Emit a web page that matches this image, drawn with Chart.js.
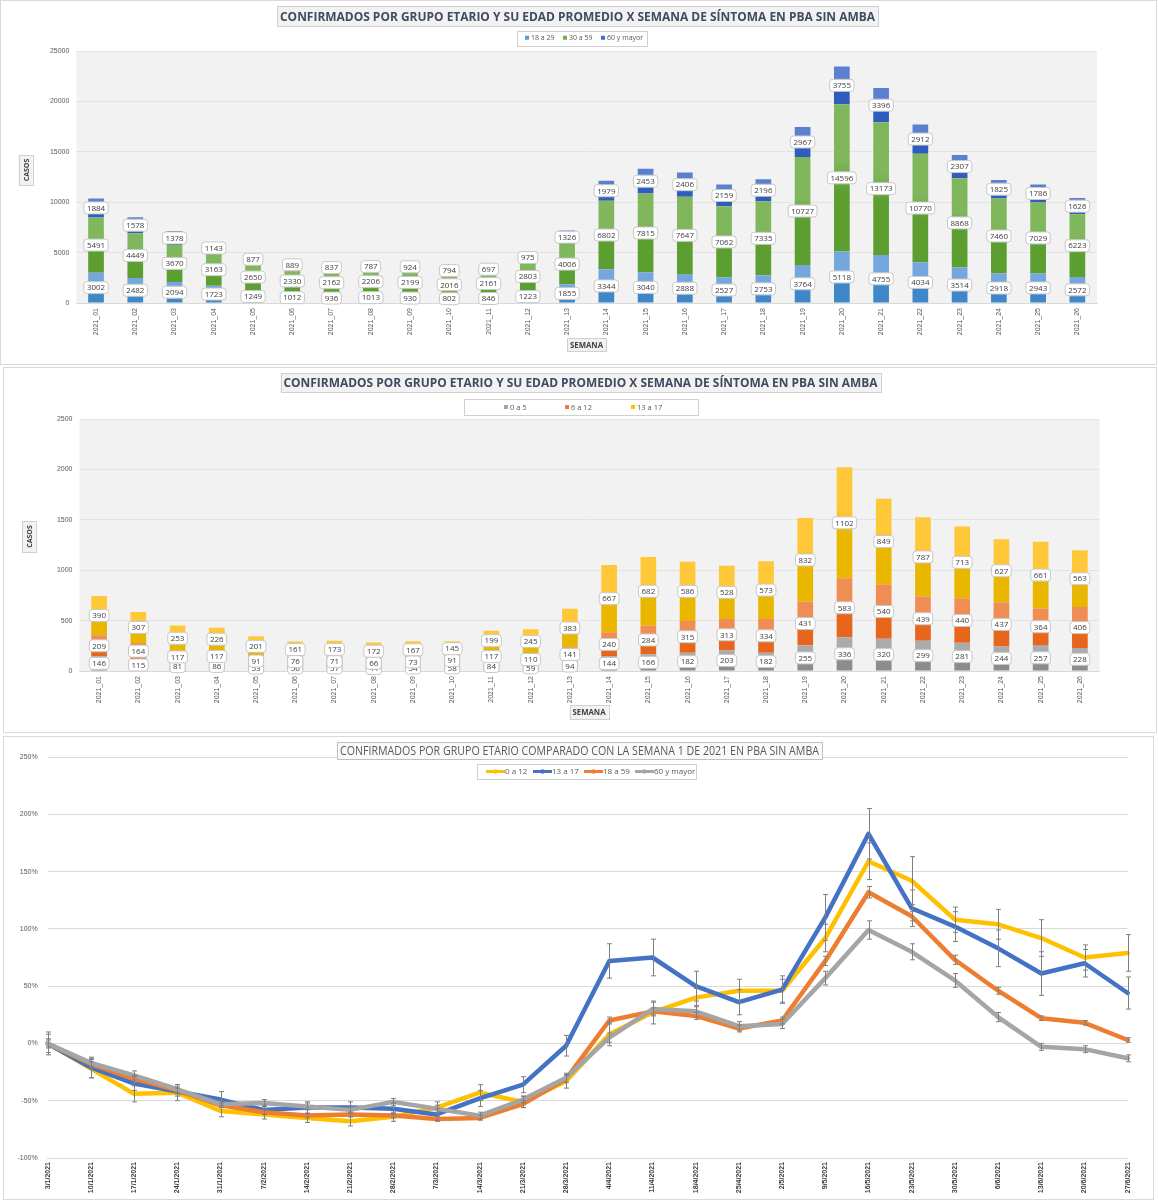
<!DOCTYPE html>
<html lang="es">
<head>
<meta charset="utf-8">
<script src="https://cdn.jsdelivr.net/npm/chart.js@4.4.0/dist/chart.umd.min.js"></script>
<title>Confirmados por grupo etario - PBA sin AMBA</title>
<style>
  body { margin: 0; background: #fff; font-family: "Open Sans", sans-serif; }
  .panel { position: absolute; }
</style>
</head>
<body>
<div class="panel" style="left:0;top:0;width:1157px;height:365px"><canvas id="g1"></canvas></div>
<div class="panel" style="left:3px;top:367px;width:1154px;height:366px"><canvas id="g2"></canvas></div>
<div class="panel" style="left:3px;top:736px;width:1151px;height:464px"><canvas id="g3"></canvas></div>

<script>
// ---- datos ----
const semanas = ['2021_01','2021_02','2021_03','2021_04','2021_05','2021_06','2021_07','2021_08','2021_09','2021_10','2021_11','2021_12','2021_13',
  '2021_14','2021_15','2021_16','2021_17','2021_18','2021_19','2021_20','2021_21','2021_22','2021_23','2021_24','2021_25','2021_26'];

// grafico 1: adultos
const c18a29 = [3002, 2482, 2094, 1723, 1249, 1012, 936, 1013, 930, 802, 846, 1223, 1855, 3344, 3040, 2888, 2527, 2753, 3764, 5118, 4755, 4034, 3514, 2918, 2943, 2572];
const c30a59 = [5491, 4449, 3670, 3163, 2650, 2330, 2162, 2206, 2199, 2016, 2161, 2803, 4006, 6802, 7815, 7647, 7062, 7335, 10727, 14596, 13173, 10770, 8868, 7460, 7029, 6223];
const c60ymas = [1884, 1578, 1378, 1143, 877, 889, 837, 787, 924, 794, 697, 975, 1326, 1979, 2453, 2406, 2159, 2196, 2967, 3755, 3396, 2912, 2307, 1825, 1786, 1626];

// grafico 2: menores
const c0a5 = [146, 115, 81, 86, 53, 56, 57, 44, 54, 58, 84, 59, 94, 144, 166, 182, 203, 182, 255, 336, 320, 299, 281, 244, 257, 228];
const c6a12 = [209, 164, 117, 117, 91, 76, 71, 66, 73, 91, 117, 110, 141, 240, 284, 315, 313, 334, 431, 583, 540, 439, 440, 437, 364, 406];
const c13a17 = [390, 307, 253, 226, 201, 161, 173, 172, 167, 145, 199, 245, 383, 667, 682, 586, 528, 573, 832, 1102, 849, 787, 713, 627, 661, 563];

// grafico 3: variacion respecto de la semana 1 (%)
const fechas = ['3/1/2021','10/1/2021','17/1/2021','24/1/2021','31/1/2021','7/2/2021','14/2/2021','21/2/2021','28/2/2021','7/3/2021','14/3/2021','21/3/2021','28/3/2021',
  '4/4/2021','11/4/2021','18/4/2021','25/4/2021','2/5/2021','9/5/2021','16/5/2021','23/5/2021','30/5/2021','6/6/2021','13/6/2021','20/6/2021','27/6/2021'];
const v0a12 = [0, -22, -44, -43, -59, -62, -65, -68, -64, -56, -43, -51, -33, 8, 27, 40, 46, 46, 92, 159, 142, 108, 104, 92, 75, 79];
const v13a17 = [0, -21, -35, -42, -49, -58, -56, -56, -57, -62, -48, -36, -2, 72, 75, 50, 36, 47, 110, 183, 118, 102, 83, 61, 70, 44];
const v18a59 = [0, -18, -31, -41, -54, -60, -63, -62, -63, -66, -65, -53, -31, 20, 28, 24, 13, 20, 72, 132, 111, 73, 46, 22, 18, 3];
const v60ymas = [0, -17, -28, -40, -53, -52, -55, -58, -51, -57, -63, -49, -30, 5, 30, 28, 15, 17, 57, 99, 80, 55, 23, -3, -5, -13];
const e0a12 = [8, 8, 7, 7, 5, 4, 4, 4, 4, 5, 7, 5, 6, 10, 10, 8, 10, 10, 12, 16, 21, 11, 13, 16, 11, 16];
const e13a17 = [10, 9, 6, 4, 7, 4, 5, 5, 5, 5, 7, 7, 9, 15, 16, 13, 11, 12, 20, 22, 16, 13, 16, 19, 12, 14];
const e18a59 = [3, 2, 3, 2, 2, 2, 2, 2, 2, 2, 2, 3, 3, 3, 3, 3, 3, 3, 4, 5, 4, 4, 3, 2, 2, 2];
const e60ymas = [4, 4, 4, 4, 3, 3, 3, 3, 3, 3, 3, 3, 4, 4, 6, 5, 4, 4, 6, 8, 7, 6, 4, 3, 3, 3];

// ---- helpers ----
// relleno degradado tipo excel (oscuro abajo, claro arriba) para cada tramo apilado
function degrade(dark, light) {
  return function (c) {
    const chart = c.chart, y = chart.scales.y;
    if (!chart.chartArea || c.type !== 'data' || !y) return dark;
    let base = 0;
    for (let d = 0; d < c.datasetIndex; d++) base += chart.data.datasets[d].data[c.dataIndex];
    const top = base + chart.data.datasets[c.datasetIndex].data[c.dataIndex];
    const y0 = y.getPixelForValue(base), y1 = y.getPixelForValue(top);
    if (!isFinite(y0) || !isFinite(y1) || y0 === y1) return dark;
    const g = chart.ctx.createLinearGradient(0, y0, 0, y1);
    g.addColorStop(0, dark);
    g.addColorStop(0.4, dark);
    g.addColorStop(0.62, light);
    g.addColorStop(1, light);
    return g;
  };
}

function caja(ctx, b) {
  ctx.save();
  ctx.fillStyle = b.bg || '#f2f2f2';
  ctx.fillRect(b.x, b.y, b.w, b.h);
  ctx.strokeStyle = b.borde || '#d0d0d0';
  ctx.lineWidth = 1;
  ctx.strokeRect(Math.round(b.x) + 0.5, Math.round(b.y) + 0.5, Math.round(b.w), Math.round(b.h));
  ctx.fillStyle = b.color || '#404040';
  ctx.font = b.font;
  ctx.textAlign = 'center';
  ctx.textBaseline = 'middle';
  ctx.translate(b.x + b.w / 2, b.y + b.h / 2);
  if (b.vertical) ctx.rotate(-Math.PI / 2);
  const room = (b.vertical ? b.h : b.w) - 6;
  const tw = ctx.measureText(b.text).width;
  if (tw > room) ctx.scale(room / tw, 1);
  ctx.fillText(b.text, 0, 1);
  ctx.restore();
}

function leyenda(chart, L) {
  const ctx = chart.ctx;
  ctx.save();
  ctx.fillStyle = '#fff';
  ctx.fillRect(L.x, L.y, L.w, L.h);
  ctx.strokeStyle = '#d0d0d0';
  ctx.lineWidth = 1;
  ctx.strokeRect(Math.round(L.x) + 0.5, Math.round(L.y) + 0.5, Math.round(L.w), Math.round(L.h));
  ctx.font = L.font;
  ctx.textBaseline = 'middle';
  ctx.textAlign = 'left';
  const cy = L.y + L.h / 2;
  chart.data.datasets.forEach((ds, i) => {
    const x = L.items[i];
    ctx.fillStyle = ds.legendColor || ds.borderColor;
    if (L.linea) {
      ctx.fillRect(x, cy - 1.5, 19, 3);
      ctx.beginPath(); ctx.arc(x + 9.5, cy, 2.2, 0, 2 * Math.PI); ctx.fill();
      ctx.fillStyle = '#595959';
      ctx.fillText(ds.label, x + 19, cy + 0.5);
    } else {
      ctx.fillRect(x, cy - 2, 4, 4);
      ctx.fillStyle = '#595959';
      ctx.fillText(ds.label, x + 6, cy + 0.5);
    }
  });
  ctx.restore();
}

// titulos, leyenda, fondo del area y marco del panel
const decor = {
  id: 'decor',
  beforeDraw(chart, args, o) {
    const a = chart.chartArea, ctx = chart.ctx;
    if (o.plotBg) {
      ctx.save();
      ctx.fillStyle = o.plotBg;
      ctx.fillRect(a.left, a.top, a.right - a.left, a.bottom - a.top);
      ctx.restore();
    }
  },
  afterDraw(chart, args, o) {
    const ctx = chart.ctx;
    ctx.save();
    ctx.strokeStyle = '#d9d9d9';
    ctx.lineWidth = 1;
    ctx.strokeRect(0.5, 0.5, chart.width - 1, chart.height - 1);
    ctx.restore();
    (o.boxes || []).forEach(b => caja(ctx, b));
    if (o.legend) leyenda(chart, o.legend);
  }
};

// etiquetas de datos en cada tramo de barra
const etiquetas = {
  id: 'etiquetas',
  afterDatasetsDraw(chart, args, o) {
    const ctx = chart.ctx;
    ctx.save();
    ctx.font = o.font || '8px "Open Sans"';
    ctx.textAlign = 'center';
    ctx.textBaseline = 'middle';
    ctx.lineWidth = 1;
    chart.data.datasets.forEach((ds, i) => {
      chart.getDatasetMeta(i).data.forEach((bar, j) => {
        const t = String(ds.data[j]);
        const cy = (bar.y + bar.base) / 2;
        const w = ctx.measureText(t).width + 6, h = o.h || 12;
        ctx.beginPath();
        ctx.roundRect(bar.x - w / 2, cy - h / 2, w, h, 3);
        ctx.fillStyle = '#fff';
        ctx.fill();
        ctx.strokeStyle = '#c8c8c8';
        ctx.stroke();
        ctx.fillStyle = '#404040';
        ctx.fillText(t, bar.x, cy + 0.5);
      });
    });
    ctx.restore();
  }
};

// barras de error verticales
const barrasError = {
  id: 'barrasError',
  afterDatasetsDraw(chart) {
    const ctx = chart.ctx, y = chart.scales.y;
    ctx.save();
    ctx.strokeStyle = '#7f7f7f';
    ctx.lineWidth = 1;
    chart.data.datasets.forEach((ds, i) => {
      if (!ds.errores) return;
      chart.getDatasetMeta(i).data.forEach((pt, j) => {
        const v = ds.data[j], e = ds.errores[j];
        const y0 = y.getPixelForValue(v - e), y1 = y.getPixelForValue(v + e);
        const x = Math.round(pt.x) + 0.5;
        ctx.beginPath();
        ctx.moveTo(x, y0); ctx.lineTo(x, y1);
        ctx.moveTo(x - 2.5, y0); ctx.lineTo(x + 2.5, y0);
        ctx.moveTo(x - 2.5, y1); ctx.lineTo(x + 2.5, y1);
        ctx.stroke();
      });
    });
    ctx.restore();
  }
};

const TITULO = 'CONFIRMADOS POR GRUPO ETARIO Y SU EDAD PROMEDIO X SEMANA DE SÍNTOMA EN PBA SIN AMBA';

function barras(id, series, maxY, paso, cfg) {
  new Chart(document.getElementById(id), {
    type: 'bar',
    data: {
      labels: semanas,
      datasets: series.map(s => ({
        label: s.label,
        data: s.data,
        backgroundColor: degrade(s.dark, s.light),
        legendColor: s.mid,
        barPercentage: 0.4,
        categoryPercentage: 1,
        borderWidth: 0
      }))
    },
    options: {
      responsive: true,
      maintainAspectRatio: false,
      animation: false,
      layout: { padding: { left: 0, right: cfg.right, top: cfg.top, bottom: 0 } },
      scales: {
        x: {
          stacked: true,
          grid: { display: false, drawTicks: false },
          border: { color: '#d9d9d9' },
          ticks: { minRotation: 90, maxRotation: 90, autoSkip: false, padding: 5, font: { size: 7 }, color: '#595959' },
          afterFit: s => { s.height = cfg.xh; }
        },
        y: {
          stacked: true,
          min: 0, max: maxY,
          ticks: { stepSize: paso, callback: v => String(v), font: { size: 7 }, color: '#595959', padding: 7 },
          grid: { color: '#e3e3e3', drawTicks: false },
          border: { display: false },
          afterFit: s => { s.width = cfg.yw; }
        }
      },
      plugins: {
        legend: { display: false },
        tooltip: { enabled: false },
        decor: { plotBg: '#f2f2f2', boxes: cfg.boxes, legend: cfg.legend },
        etiquetas: { font: '8px "Open Sans"', h: 12 }
      }
    },
    plugins: [decor, etiquetas]
  });
}

// ---- grafico 1 ----
barras('g1', [
  { label: '18 a 29', data: c18a29, dark: '#3e87c9', light: '#73a7dd', mid: '#5b9bd5' },
  { label: '30 a 59', data: c30a59, dark: '#5c9e30', light: '#80b75c', mid: '#70ad47' },
  { label: '60 y mayor', data: c60ymas, dark: '#2e5dbd', light: '#5b80d0', mid: '#4472c4' }
], 25000, 5000, {
  right: 60, top: 51, xh: 62, yw: 76.4,
  boxes: [
    { text: TITULO, x: 277, y: 6, w: 601, h: 20, font: 'bold 13px "Open Sans"', color: '#3f4b62', bg: '#f2f2f2' },
    { text: 'CASOS', x: 18.5, y: 155, w: 14, h: 30, font: 'bold 7px "Open Sans"', vertical: true },
    { text: 'SEMANA', x: 567, y: 338, w: 39, h: 13, font: 'bold 8px "Open Sans"' }
  ],
  legend: { x: 517, y: 30.5, w: 130, h: 14.5, font: '7px "Open Sans"', items: [525, 563, 601] }
});

// ---- grafico 2 ----
barras('g2', [
  { label: '0 a 5', data: c0a5, dark: '#8c8c8c', light: '#ababab', mid: '#a5a5a5' },
  { label: '6 a 12', data: c6a12, dark: '#e7661c', light: '#f08d54', mid: '#ed7d31' },
  { label: '13 a 17', data: c13a17, dark: '#e9b600', light: '#ffc839', mid: '#ffc000' }
], 2500, 500, {
  right: 57.5, top: 52, xh: 62, yw: 76.5,
  boxes: [
    { text: TITULO, x: 277.5, y: 6, w: 600, h: 19, font: 'bold 13px "Open Sans"', color: '#3f4b62', bg: '#f2f2f2' },
    { text: 'CASOS', x: 19, y: 154, w: 13.5, h: 31, font: 'bold 7px "Open Sans"', vertical: true },
    { text: 'SEMANA', x: 566.5, y: 338, w: 39, h: 14, font: 'bold 8px "Open Sans"' }
  ],
  legend: { x: 461, y: 32, w: 234, h: 16, font: '7.5px "Open Sans"', items: [501, 562, 628] }
});

// ---- grafico 3 ----
new Chart(document.getElementById('g3'), {
  type: 'line',
  data: {
    labels: fechas,
    datasets: [
      { label: '0 a 12', data: v0a12, errores: e0a12, borderColor: '#ffc000', backgroundColor: '#ffc000', order: 3 },
      { label: '13 a 17', data: v13a17, errores: e13a17, borderColor: '#4472c4', backgroundColor: '#4472c4', order: 2 },
      { label: '18 a 59', data: v18a59, errores: e18a59, borderColor: '#ed7d31', backgroundColor: '#ed7d31', order: 1 },
      { label: '60 y mayor', data: v60ymas, errores: e60ymas, borderColor: '#a5a5a5', backgroundColor: '#a5a5a5', order: 0 }
    ]
  },
  options: {
    responsive: true,
    maintainAspectRatio: false,
    animation: false,
    layout: { padding: { left: 0, right: 26.3, top: 21, bottom: 0 } },
    elements: {
      line: { borderWidth: 4.5, tension: 0, borderJoinStyle: 'round', borderCapStyle: 'round' },
      point: { radius: 0 }
    },
    scales: {
      x: {
        offset: false,
        grid: { display: false, drawTicks: false },
        border: { color: '#d9d9d9' },
        ticks: { minRotation: 90, maxRotation: 90, autoSkip: false, padding: 4, font: { size: 7, weight: 'bold' }, color: '#404040' },
        afterFit: s => { s.height = 42; }
      },
      y: {
        min: -100, max: 250,
        ticks: { stepSize: 50, callback: v => v + '%', font: { size: 7 }, color: '#595959', padding: 10 },
        grid: { color: '#d9d9d9', drawTicks: false },
        border: { display: false },
        afterFit: s => { s.width = 44.7; }
      }
    },
    plugins: {
      legend: { display: false },
      tooltip: { enabled: false },
      decor: {
        boxes: [
          { text: 'CONFIRMADOS POR GRUPO ETARIO COMPARADO CON LA SEMANA 1 DE 2021 EN PBA SIN AMBA',
            x: 334, y: 6, w: 485, h: 17, font: '12px "Open Sans"', color: '#595959', bg: '#fafafa', borde: '#bfbfbf' }
        ],
        legend: { x: 474, y: 28, w: 219, h: 15, font: '8px "Open Sans"', linea: true, items: [483, 530, 581, 632] }
      }
    }
  },
  plugins: [decor, barrasError]
});
</script>
</body>
</html>
